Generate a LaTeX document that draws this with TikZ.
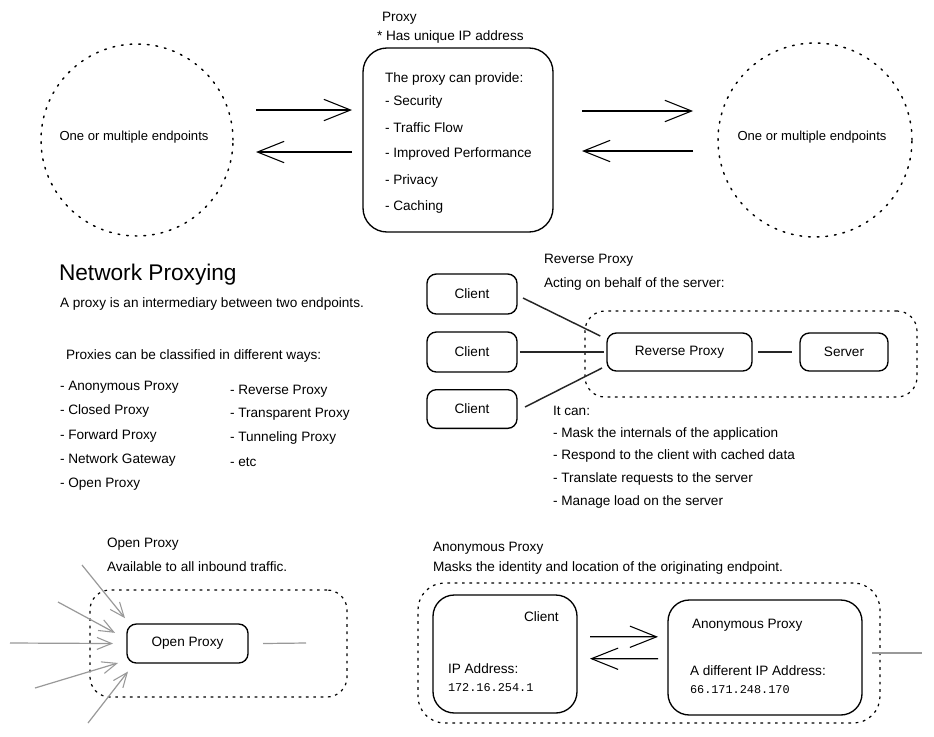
\documentclass[tikz,border=0pt]{standalone}
\usepackage{fontspec}
\setmainfont{Liberation Sans}
\setmonofont{Liberation Mono}
\usetikzlibrary{arrows.meta}
\begin{document}
\begin{tikzpicture}[x=0.75pt,y=-0.75pt,
  every node/.style={inner sep=0pt, outer sep=0pt},
  txt/.style={anchor=west, font=\fontsize{10.2}{12}\selectfont},
  mono/.style={anchor=west, font=\ttfamily\fontsize{8.9}{10}\selectfont},
  dotcirc/.style={draw, circle, line width=1.1pt, dash pattern=on 1.3pt off 5.2pt, line cap=round},
  region/.style={draw, rectangle, rounded corners=15pt, line width=0.9pt, dash pattern=on 2pt off 3.5pt},
  box/.style={draw, rectangle, line width=1pt, font=\fontsize{10.2}{12}\selectfont},
  arr/.style={line width=0.9pt, -{Straight Barb[length=20pt,width=16pt,line width=0.8pt]}},
  link/.style={line width=1.1pt, black!85},
  grayarr/.style={line width=0.9pt, black!40, -{Straight Barb[length=11pt,width=9pt,line width=0.8pt]}},
  grayline/.style={line width=0.9pt, black!40}
]
\useasboundingbox (0,0) rectangle (934,736);
\fill[white] (0,0) rectangle (934,736);

% ---------- top row ----------
\node[dotcirc, minimum size=144pt] (circL) at (137,140) {};
\node[txt, anchor=center, font=\fontsize{9.8}{11}\selectfont] (circLtxt) at (134,137) {One or multiple endpoints};
\node[dotcirc, minimum size=145.5pt] (circR) at (815,140) {};
\node[txt, anchor=center, font=\fontsize{9.8}{11}\selectfont] (circRtxt) at (812,137) {One or multiple endpoints};

\node[box, rounded corners=18pt, minimum width=142.5pt, minimum height=138pt] (proxybox) at (458,140) {};
\node[txt] (proxyttl) at (382,18) {Proxy};
\node[txt] (proxyuniq) at (377,37) {* Has unique IP address};
\node[txt] (provide) at (385,79) {The proxy can provide:};
\node[txt] (p1) at (385,102) {- Security};
\node[txt] (p2) at (385,128) {- Traffic Flow};
\node[txt] (p3) at (385,154) {- Improved Performance};
\node[txt] (p4) at (385,181) {- Privacy};
\node[txt] (p5) at (385,207) {- Caching};

\coordinate (a1s) at (256,110); \coordinate (a1e) at (352,110);
\coordinate (a2s) at (352,152); \coordinate (a2e) at (256,152);
\coordinate (a3s) at (582,111); \coordinate (a3e) at (693,111);
\coordinate (a4s) at (693,151); \coordinate (a4e) at (582,151);
\draw[arr] (a1s) -- (a1e);
\draw[arr] (a2s) -- (a2e);
\draw[arr] (a3s) -- (a3e);
\draw[arr] (a4s) -- (a4e);

% ---------- left text ----------
\node[anchor=west, font=\fontsize{17}{19}\selectfont] (title) at (59,275) {Network Proxying};
\node[txt] (intro) at (60,304) {A proxy is an intermediary between two endpoints.};
\node[txt] (classes) at (66,356) {Proxies can be classified in different ways:};
\node[txt] (l1) at (60,387) {- Anonymous Proxy};
\node[txt] (l2) at (60,411) {- Closed Proxy};
\node[txt] (l3) at (60,436) {- Forward Proxy};
\node[txt] (l4) at (60,460) {- Network Gateway};
\node[txt] (l5) at (60,484) {- Open Proxy};
\node[txt] (r1) at (230,391) {- Reverse Proxy};
\node[txt] (r2) at (230,414) {- Transparent Proxy};
\node[txt] (r3) at (230,438) {- Tunneling Proxy};
\node[txt] (r4) at (230,462) {- etc};

% ---------- reverse proxy ----------
\node[txt] (revttl) at (544,260) {Reverse Proxy};
\node[txt] (revsub) at (544,284) {Acting on behalf of the server:};
\node[region, minimum width=249pt, minimum height=64.5pt] (revreg) at (751,354) {};
\node[box, rounded corners=7pt, minimum width=67.5pt, minimum height=30pt] (cl1) at (472,294) {Client};
\node[box, rounded corners=7pt, minimum width=67.5pt, minimum height=30pt] (cl2) at (472,352) {Client};
\node[box, rounded corners=7pt, minimum width=67.5pt, minimum height=29pt] (cl3) at (472,409) {Client};
\node[box, rounded corners=7pt, minimum width=108.75pt, minimum height=28.5pt] (rp) at (679.5,352) {Reverse Proxy};
\node[box, rounded corners=7pt, minimum width=66pt, minimum height=28.5pt] (srv) at (844,352) {Server};
\draw[link] ([xshift=4.5pt,yshift=-3pt]cl1.east) -- ([xshift=-5pt,yshift=12pt]rp.west);
\draw[link] ([xshift=2.2pt]cl2.east) -- ([xshift=-2.2pt]rp.west);
\draw[link] ([xshift=6pt,yshift=1.5pt]cl3.east) -- ([xshift=-3.7pt,yshift=-12pt]rp.west);
\draw[link] ([xshift=4.5pt]rp.east) -- ([xshift=-6pt]srv.west);
\node[txt] (itcan) at (553,411) {It can:};
\node[txt] (c1) at (553,434) {- Mask the internals of the application};
\node[txt] (c2) at (553,456) {- Respond to the client with cached data};
\node[txt] (c3) at (553,479) {- Translate requests to the server};
\node[txt] (c4) at (553,502) {- Manage load on the server};

% ---------- open proxy ----------
\node[txt] (openttl) at (107,544) {Open Proxy};
\node[txt] (opensub) at (107,567) {Available to all inbound traffic.};
\node[region, minimum width=192.75pt, minimum height=80.25pt] (openreg) at (218.5,643.5) {};
\node[box, rounded corners=7pt, minimum width=90.75pt, minimum height=29.25pt] (opbox) at (187.5,643.5) {Open Proxy};
\coordinate (o1) at (82,565);
\coordinate (o2) at (58,602);
\coordinate (o3) at (10,643);
\coordinate (o4) at (35,688);
\coordinate (o5) at (88,723);
\coordinate (oout) at (306,643);
\draw[grayarr] (o1) -- ([xshift=-1.5pt,yshift=19pt]opbox.west);
\draw[grayarr] (o2) -- ([xshift=-9pt,yshift=8pt]opbox.west);
\draw[grayarr] (o3) -- ([xshift=-10.5pt]opbox.west);
\draw[grayarr] (o4) -- ([xshift=-6.75pt,yshift=-14.6pt]opbox.west);
\draw[grayarr] (o5) -- ([xshift=0.75pt,yshift=-21pt]opbox.west);
\draw[grayline] ([xshift=11.25pt]opbox.east) -- (oout);

% ---------- anonymous proxy ----------
\node[txt] (anonttl) at (433,548) {Anonymous Proxy};
\node[txt] (anonsub) at (433,568) {Masks the identity and location of the originating endpoint.};
\node[region, rounded corners=20pt, minimum width=346.5pt, minimum height=105pt] (anonreg) at (649,653) {};
\node[box, rounded corners=16pt, minimum width=108pt, minimum height=88.5pt] (clbox) at (505,654) {};
\node[box, rounded corners=16pt, minimum width=145.5pt, minimum height=86.25pt] (anbox) at (765,657.5) {};
\node[txt] (cltxt) at (524,617) {Client};
\node[txt] (clip) at (448,669) {IP Address:};
\node[mono] (clipv) at (448,688) {172.16.254.1};
\node[txt] (antxt) at (692,625) {Anonymous Proxy};
\node[txt] (anip) at (690,671) {A different IP Address:};
\node[mono] (anipv) at (690,690) {66.171.248.170};
\draw[arr] ([xshift=9.75pt,yshift=13pt]clbox.east) -- ([xshift=-7.5pt,yshift=15.5pt]anbox.west);
\draw[arr] ([xshift=-7.5pt,yshift=-1pt]anbox.west) -- ([xshift=9.75pt,yshift=-3.5pt]clbox.east);
\coordinate (anout) at (922,653);
\draw[grayline] ([xshift=-6pt]anonreg.east) -- (anout);
\end{tikzpicture}
\end{document}
